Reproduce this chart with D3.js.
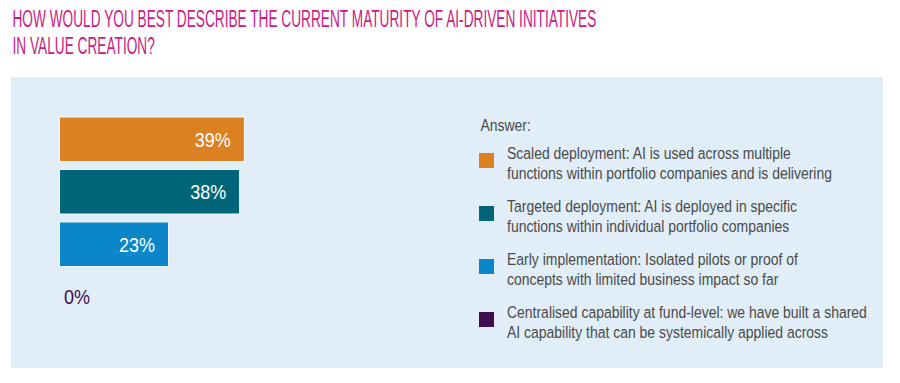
<!DOCTYPE html>
<html>
<head>
<meta charset="utf-8">
<script src="https://cdn.jsdelivr.net/npm/d3@7"></script>
<style>
  body { margin: 0; background: #fff; }
  svg { display: block; }
  text { font-family: "Liberation Sans", Arial, sans-serif; }
</style>
</head>
<body>
<div id="chartContainer"></div>
<script>
const titleLines = ["HOW WOULD YOU BEST DESCRIBE THE CURRENT MATURITY OF AI-DRIVEN INITIATIVES", "IN VALUE CREATION?"];
const categories = ["Scaled deployment", "Targeted deployment", "Early implementation", "Centralised capability"];
const values = [39, 38, 23, 0];
const colors = ["#dc8121", "#01657a", "#0b87c9", "#3d0e50"];
const legendTitle = "Answer:";
const legendLines = [
  ["Scaled deployment: AI is used across multiple", "functions within portfolio companies and is delivering"],
  ["Targeted deployment: AI is deployed in specific", "functions within individual portfolio companies"],
  ["Early implementation: Isolated pilots or proof of", "concepts with limited business impact so far"],
  ["Centralised capability at fund-level: we have built a shared", "AI capability that can be systemically applied across"]
];

const svgWidth = 900;
const svgHeight = 383;

const svg = d3.select("#chartContainer")
  .append("svg")
  .attr("width", svgWidth)
  .attr("height", svgHeight);

// squeeze a block of text horizontally so a reference line gets the wanted width
function condense(sel, refNode, wanted) {
  const f = wanted / refNode.getComputedTextLength();
  sel.each(function() {
    const t = d3.select(this);
    const x = +t.attr("x"), y = +t.attr("y");
    t.attr("x", 0).attr("y", 0)
      .attr("transform", `translate(${x},${y}) scale(${f},1)`);
  });
}

// title
const title = svg.append("g").selectAll("text")
  .data(titleLines)
  .enter()
  .append("text")
  .attr("x", 12.5)
  .attr("y", (d, i) => 27 + i * 27)
  .attr("fill", "#cc1b80")
  .attr("font-size", 23.5)
  .text(d => d);
condense(title, title.node(), 584);

// panel
svg.append("rect")
  .attr("x", 11)
  .attr("y", 77)
  .attr("width", 872)
  .attr("height", 291)
  .attr("fill", "#e1eef8");

const xScale = d3.scaleLinear()
  .domain([0, 100])
  .range([59.5, 533.5]);

const yScale = d3.scaleBand()
  .domain(categories)
  .range([117, 319])
  .paddingInner(0.152)
  .paddingOuter(0);

const bars = svg.selectAll(".bar")
  .data(categories)
  .enter()
  .append("g")
  .attr("class", "bar");

bars.append("rect")
  .attr("x", xScale(0))
  .attr("y", d => yScale(d))
  .attr("width", (d, i) => xScale(values[i]) - xScale(0))
  .attr("height", yScale.bandwidth())
  .attr("fill", (d, i) => colors[i])
  .attr("stroke", "#f4f8fb")
  .attr("stroke-width", (d, i) => values[i] > 0 ? 1 : 0);

const barLabels = bars.append("text")
  .attr("x", (d, i) => values[i] > 5 ? xScale(values[i]) - 13.5 : xScale(0) + 4.5)
  .attr("y", d => yScale(d) + yScale.bandwidth() / 2 + 7.5)
  .attr("text-anchor", (d, i) => values[i] > 5 ? "end" : "start")
  .attr("fill", (d, i) => values[i] > 5 ? "#ffffff" : "#3d0e50")
  .attr("font-size", 21)
  .text((d, i) => values[i] + "%");
condense(barLabels, barLabels.node(), 36);

// legend
const legend = svg.append("g").attr("transform", "translate(479, 0)");

const legendHead = legend.append("text")
  .attr("x", 1.5)
  .attr("y", 131)
  .attr("fill", "#4a4a4a")
  .attr("font-size", 17)
  .text(legendTitle);

const items = legend.selectAll(".item")
  .data(legendLines)
  .enter()
  .append("g")
  .attr("class", "item")
  .attr("transform", (d, i) => `translate(0, ${159 + i * 53})`);

items.append("rect")
  .attr("x", 0)
  .attr("y", -6)
  .attr("width", 15)
  .attr("height", 15)
  .attr("fill", (d, i) => colors[i]);

const legendText = items.selectAll("text")
  .data(d => d)
  .enter()
  .append("text")
  .attr("x", 28)
  .attr("y", (d, j) => j * 20)
  .attr("fill", "#4a4a4a")
  .attr("font-size", 17)
  .text(d => d);

const refLine = legendText.filter(d => d === legendLines[3][0]).node();
const f = 360 / refLine.getComputedTextLength();
condense(legendText, refLine, 360);
condense(legendHead, legendHead.node(), legendHead.node().getComputedTextLength() * f);
</script>
</body>
</html>
